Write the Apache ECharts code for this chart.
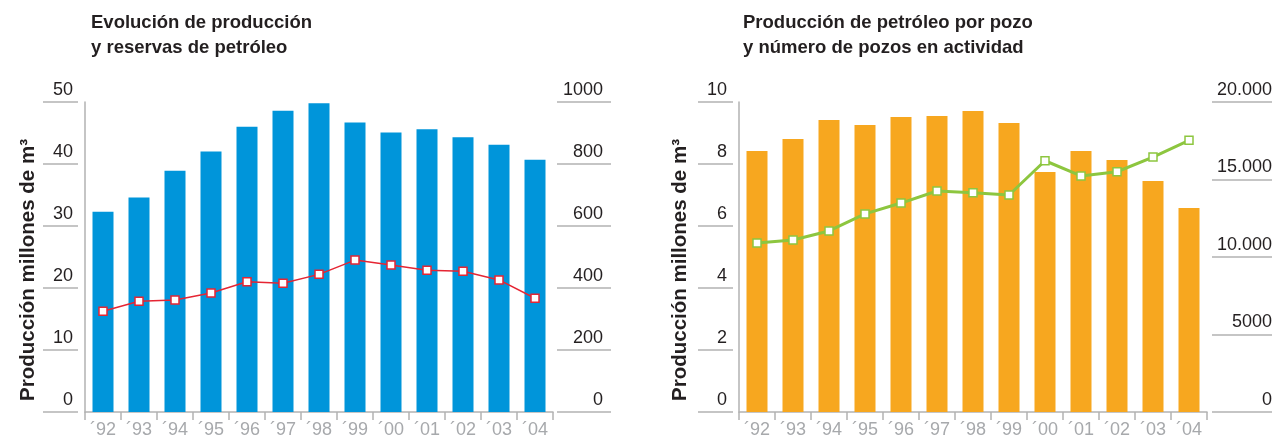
<!DOCTYPE html>
<html>
<head>
<meta charset="utf-8">
<script src="https://cdn.jsdelivr.net/npm/echarts@6/dist/echarts.min.js"></script>
<style>
  html, body { margin: 0; padding: 0; background: #fff; }
  #chart { width: 1281px; height: 440px; }
</style>
</head>
<body>
<div id="chart"></div>
<script>
// Years shown on both category axes
const years = ['´92', '´93', '´94', '´95', '´96', '´97', '´98', '´99', '´00', '´01', '´02', '´03', '´04'];

// Left panel: oil production (millions m³) and reserves
const produccion = [32.3, 34.6, 38.9, 42.0, 46.0, 48.6, 49.8, 46.7, 45.1, 45.6, 44.3, 43.1, 40.7];
const reservas = [325, 357, 361, 384, 420, 415, 444, 490, 474, 457, 454, 426, 367];

// Right panel: production per well and number of active wells
const prodPorPozo = [8.42, 8.81, 9.42, 9.26, 9.52, 9.55, 9.71, 9.32, 7.74, 8.42, 8.13, 7.45, 6.58];
const pozosActivos = [10900, 11100, 11680, 12780, 13480, 14260, 14150, 14000, 16210, 15230, 15500, 16450, 17530];

// Tick labels
const ticksProd = ['0', '10', '20', '30', '40', '50'];
const ticksReservas = ['0', '200', '400', '600', '800', '1000'];
const ticksPorPozo = ['0', '2', '4', '6', '8', '10'];
const ticksPozos = ['0', '5000', '10.000', '15.000', '20.000'];

const FONT = 'Liberation Sans, Arial, sans-serif';
const GREY = '#b2b2b2';
const DARK = '#231f20';

function catAxis(grid) {
  return {
    type: 'category', gridIndex: grid, data: years,
    axisLine: { lineStyle: { color: GREY, width: 1.5 } },
    axisTick: { show: true, length: 8, lineStyle: { color: GREY, width: 1.5 } },
    axisLabel: { color: '#a7a9ac', fontSize: 18, fontFamily: FONT, margin: 9 }
  };
}

// Plain vertical axis line, carries the bars
function lineAxis(grid, max, interval) {
  return {
    type: 'value', gridIndex: grid, position: 'left', min: 0, max: max, interval: interval,
    axisLine: { show: true, lineStyle: { color: GREY, width: 1.5 } },
    axisTick: { show: false }, axisLabel: { show: false }, splitLine: { show: false }
  };
}

// Short tick rules with labels sitting above them
function ruleAxis(grid, pos, offset, len, margin, max, interval, labels) {
  return {
    type: 'value', gridIndex: grid, position: pos, offset: offset,
    min: 0, max: max, interval: interval,
    axisLine: { show: false },
    axisTick: { show: true, length: len, lineStyle: { color: GREY, width: 1.5 } },
    axisLabel: {
      show: true, margin: margin, align: 'right', verticalAlign: 'bottom',
      padding: [0, 0, 3, 0],
      color: DARK, fontSize: 18, fontFamily: FONT,
      formatter: function (v) { return labels[Math.round(v / interval)]; }
    },
    splitLine: { show: false }
  };
}

function yTitle(x) {
  return {
    type: 'text', x: x, y: 270, rotation: Math.PI / 2,
    style: {
      text: 'Producción millones de m³', fill: DARK,
      font: 'bold 20.5px ' + FONT, align: 'center', verticalAlign: 'middle',
      textAlign: 'center', textVerticalAlign: 'middle'
    }
  };
}

const titleStyle = { color: DARK, fontSize: 18.5, fontWeight: 'bold', fontFamily: FONT, lineHeight: 25 };

const chart = echarts.init(document.getElementById('chart'));
chart.setOption({
  animation: false,
  title: [
    { text: 'Evolución de producción\ny reservas de petróleo', left: 91, top: 10, padding: 0, textStyle: titleStyle },
    { text: 'Producción de petróleo por pozo\ny número de pozos en actividad', left: 743, top: 10, padding: 0, textStyle: titleStyle }
  ],
  graphic: [yTitle(28), yTitle(680)],
  grid: [
    { left: 85, width: 468, top: 102, height: 310 },
    { left: 739, width: 468, top: 102, height: 310 }
  ],
  xAxis: [catAxis(0), catAxis(1)],
  yAxis: [
    lineAxis(0, 50, 10),
    ruleAxis(0, 'left', 7, 35, 5, 50, 10, ticksProd),
    ruleAxis(0, 'right', 4, 54, 46, 1000, 200, ticksReservas),
    lineAxis(1, 10, 2),
    ruleAxis(1, 'left', 6, 35, 6, 10, 2, ticksPorPozo),
    ruleAxis(1, 'right', 5, 60, 60, 20000, 5000, ticksPozos)
  ],
  series: [
    {
      type: 'bar', xAxisIndex: 0, yAxisIndex: 0, data: produccion,
      barWidth: 21, itemStyle: { color: '#0095da' }
    },
    {
      type: 'line', xAxisIndex: 0, yAxisIndex: 2, data: reservas,
      symbol: 'rect', symbolSize: 8, z: 5,
      lineStyle: { color: '#e52533', width: 1.5 },
      itemStyle: { color: '#ffffff', borderColor: '#e52533', borderWidth: 1.5 }
    },
    {
      type: 'bar', xAxisIndex: 1, yAxisIndex: 3, data: prodPorPozo,
      barWidth: 21, itemStyle: { color: '#f7a71f' }
    },
    {
      type: 'line', xAxisIndex: 1, yAxisIndex: 5, data: pozosActivos,
      symbol: 'rect', symbolSize: 8, z: 5,
      lineStyle: { color: '#8dc63f', width: 3 },
      itemStyle: { color: '#ffffff', borderColor: '#8dc63f', borderWidth: 1.5 }
    }
  ]
});
</script>
</body>
</html>
